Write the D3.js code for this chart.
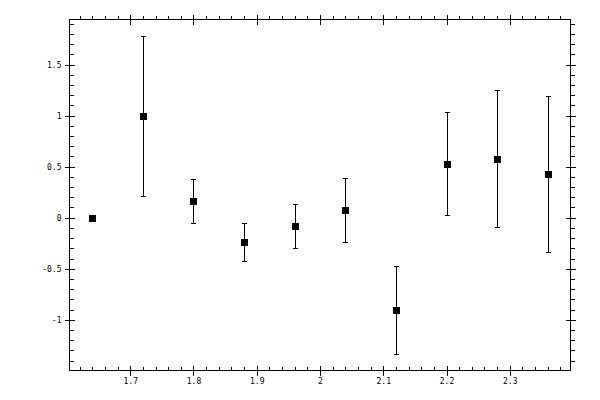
<!DOCTYPE html>
<html>
<head>
<meta charset="utf-8">
<script src="https://cdn.jsdelivr.net/npm/d3@7"></script>
<style>
	body { margin: 0; background: #fff; }
	text { font-family: "DejaVu Sans Mono", monospace; font-size: 8px; fill: #000; }
</style>
</head>
<body>
<svg id="chart"></svg>
<script>
const xValues = [1.64, 1.72, 1.80, 1.88, 1.96, 2.04, 2.12, 2.20, 2.28, 2.36];
const yValues = [0, 1.0, 0.167, -0.235, -0.078, 0.078, -0.902, 0.529, 0.578, 0.431];
const yErrors = [0, 0.783, 0.216, 0.186, 0.216, 0.314, 0.432, 0.505, 0.670, 0.765];
const xDomain = [1.604, 2.396];
const yDomain = [-1.497, 1.941];

const size = { w: 600, h: 400 };
const frame = { l: 69.5, r: 570.5, t: 19.5, b: 370.5 };

const svg = d3.select("svg#chart").attr("width", size.w).attr("height", size.h);
const g = svg.append("g").attr("shape-rendering", "crispEdges");

const x = d3.scaleLinear().domain(xDomain).range([frame.l, frame.r]);
const y = d3.scaleLinear().domain(yDomain).range([frame.b, frame.t]);

const fmt = (d) => String(+d.toFixed(2));

// frame
g.append("rect")
	.attr("x", frame.l)
	.attr("y", frame.t)
	.attr("width", frame.r - frame.l)
	.attr("height", frame.b - frame.t)
	.attr("fill", "none")
	.attr("stroke", "#000");

const xMajor = d3.ticks(xDomain[0], xDomain[1], 8);
const xMinor = d3.ticks(xDomain[0], xDomain[1], 40).filter((d) => !xMajor.some((m) => Math.abs(m - d) < 1e-9));
const yMajor = d3.ticks(yDomain[0], yDomain[1], 7);
const yMinor = d3.ticks(yDomain[0], yDomain[1], 35).filter((d) => !yMajor.some((m) => Math.abs(m - d) < 1e-9));

// x ticks, bottom and top (all pointing up)
[frame.b, frame.t].forEach((yy) => {
	g.selectAll(null).data(xMinor).join("line")
		.attr("x1", (d) => Math.round(x(d)) + 0.5).attr("x2", (d) => Math.round(x(d)) + 0.5)
		.attr("y1", yy).attr("y2", yy - 4)
		.attr("stroke", "#000");
	g.selectAll(null).data(xMajor).join("line")
		.attr("x1", (d) => Math.round(x(d)) + 0.5).attr("x2", (d) => Math.round(x(d)) + 0.5)
		.attr("y1", yy + 5).attr("y2", yy - 5)
		.attr("stroke", "#000");
});

// y ticks, left and right (all pointing right)
[frame.l, frame.r].forEach((xx) => {
	g.selectAll(null).data(yMinor).join("line")
		.attr("y1", (d) => Math.round(y(d)) + 0.5).attr("y2", (d) => Math.round(y(d)) + 0.5)
		.attr("x1", xx).attr("x2", xx + 4)
		.attr("stroke", "#000");
	g.selectAll(null).data(yMajor).join("line")
		.attr("y1", (d) => Math.round(y(d)) + 0.5).attr("y2", (d) => Math.round(y(d)) + 0.5)
		.attr("x1", xx - 5).attr("x2", xx + 5)
		.attr("stroke", "#000");
});

// tick labels
svg.selectAll("text.xlab").data(xMajor).join("text")
	.classed("xlab", true)
	.attr("x", (d) => x(d) + 0.5)
	.attr("y", 384)
	.attr("text-anchor", "middle")
	.text(fmt);

svg.selectAll("text.ylab").data(yMajor).join("text")
	.classed("ylab", true)
	.attr("x", 61.5)
	.attr("y", (d) => y(d) + 3)
	.attr("text-anchor", "end")
	.text(fmt);

// error bars
const pts = xValues.map((v, i) => ({ x: v, y: yValues[i], e: yErrors[i] }));
const bars = g.selectAll("g.err").data(pts.filter((d) => d.e > 0)).join("g").classed("err", true);
bars.append("line")
	.attr("x1", (d) => Math.round(x(d.x)) + 0.5).attr("x2", (d) => Math.round(x(d.x)) + 0.5)
	.attr("y1", (d) => y(d.y - d.e)).attr("y2", (d) => y(d.y + d.e))
	.attr("stroke", "#000");
[-1, 1].forEach((s) => {
	bars.append("line")
		.attr("x1", (d) => Math.round(x(d.x)) - 2).attr("x2", (d) => Math.round(x(d.x)) + 3)
		.attr("y1", (d) => Math.round(y(d.y + s * d.e)) + 0.5).attr("y2", (d) => Math.round(y(d.y + s * d.e)) + 0.5)
		.attr("stroke", "#000");
});

// markers
g.selectAll("rect.pt").data(pts).join("rect")
	.classed("pt", true)
	.attr("x", (d) => Math.round(x(d.x)) - 3)
	.attr("y", (d) => Math.round(y(d.y)) - 3)
	.attr("width", 7)
	.attr("height", 7)
	.attr("fill", "#000");
</script>
</body>
</html>
